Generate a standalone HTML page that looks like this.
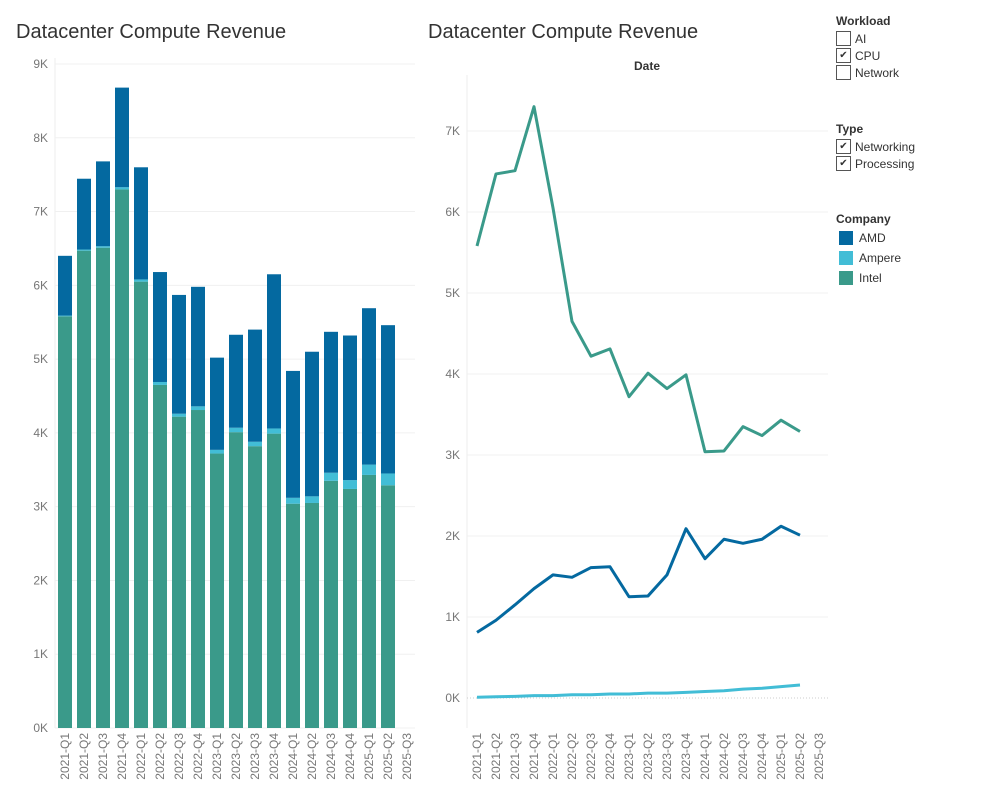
<!DOCTYPE html>
<html><head><meta charset="utf-8"><style>
body{margin:0;background:#fff;font-family:"Liberation Sans",sans-serif;}
#wrap{position:relative;width:1000px;height:800px;overflow:hidden;}
.title{position:absolute;font-size:20px;color:#333;}
.leg{position:absolute;font-size:12px;color:#333;}
.lt{font-weight:bold;font-size:12px;margin-bottom:2px;}
.cb{display:flex;align-items:center;height:17px;}
.box{width:15px;height:15px;border:1px solid #555;box-sizing:border-box;margin-right:4px;font-size:10px;line-height:13px;text-align:center;}
.sw{display:flex;align-items:center;height:20px;padding-left:3px;}
.sq{width:14px;height:14px;margin-right:6px;}
</style></head><body><div id="wrap">
<div class="title" style="left:16px;top:21px">Datacenter Compute Revenue</div>
<div class="title" style="left:428px;top:21px">Datacenter Compute Revenue</div>
<svg id="chart" width="1000" height="800" style="position:absolute;left:0;top:0"></svg>
<div class="leg" style="left:836px;top:14px">
<div class="lt">Workload</div>
<div class="cb"><div class="box"></div>AI</div>
<div class="cb"><div class="box">✔</div>CPU</div>
<div class="cb"><div class="box"></div>Network</div>
</div>
<div class="leg" style="left:836px;top:122px">
<div class="lt">Type</div>
<div class="cb"><div class="box">✔</div>Networking</div>
<div class="cb"><div class="box">✔</div>Processing</div>
</div>
<div class="leg" style="left:836px;top:212px">
<div class="lt">Company</div>
<div class="sw"><div class="sq" style="background:#0469a0"></div>AMD</div>
<div class="sw"><div class="sq" style="background:#42bdd6"></div>Ampere</div>
<div class="sw"><div class="sq" style="background:#3a9a8a"></div>Intel</div>
</div>
</div>
<script>
const categories=["2021-Q1","2021-Q2","2021-Q3","2021-Q4","2022-Q1","2022-Q2","2022-Q3","2022-Q4","2023-Q1","2023-Q2","2023-Q3","2023-Q4","2024-Q1","2024-Q2","2024-Q3","2024-Q4","2025-Q1","2025-Q2","2025-Q3"];
const intel=[5580,6470,6510,7300,6050,4650,4220,4310,3720,4010,3820,3990,3040,3050,3350,3240,3430,3290];
const ampere=[10,15,20,30,30,40,40,50,50,60,60,70,80,90,110,120,140,160];
const amd=[810,960,1150,1350,1520,1490,1610,1620,1250,1260,1520,2090,1720,1960,1910,1960,2120,2010];
const leftTicks=[0,1000,2000,3000,4000,5000,6000,7000,8000,9000];
const rightTicks=[0,1000,2000,3000,4000,5000,6000,7000];
const C={amd:"#0469a0",ampere:"#42bdd6",intel:"#3a9a8a"};
const svg=document.getElementById('chart');
const NS="http://www.w3.org/2000/svg";
function mk(t,a,p){const e=document.createElementNS(NS,t);for(const k in a)e.setAttribute(k,a[k]);(p||svg).appendChild(e);return e;}
const fmt=v=>(v/1000)+"K";
// left bar chart
const yL=v=>728-v*(664/9000);
const xL=i=>65+i*19;
mk('line',{x1:55,y1:728,x2:415,y2:728,stroke:'#e6e6e6'});
mk('line',{x1:55,y1:58,x2:55,y2:728,stroke:'#eee'});
leftTicks.forEach(v=>{
 const g=mk('line',{x1:55,y1:yL(v),x2:415,y2:yL(v),stroke:'#f0f0f0'});
 
 
 const t=mk('text',{x:48,y:yL(v)+4,'text-anchor':'end','font-size':12,fill:'#777'});
 t.textContent=fmt(v);
 
 
});
categories.forEach((c,i)=>{
 const t=mk('text',{transform:`translate(${xL(i)+4},${733}) rotate(-90)`,'text-anchor':'end','font-size':12,fill:'#777'});
 t.textContent=c;
 
 
 if(i>=intel.length)return;
 let base=0;
 [[intel,C.intel,'bar-intel'],[ampere,C.ampere,'bar-ampere'],[amd,C.amd,'bar-amd']].forEach(([arr,col,nm])=>{
  const v=arr[i];
  const r=mk('rect',{x:xL(i)-7,y:yL(base+v),width:14,height:yL(base)-yL(base+v),fill:col});
  
  
  base+=v;
 });
});
// right line chart
const yR=v=>698-v*(81/1000);
const xR=i=>477+i*19;
mk('line',{x1:467,y1:75,x2:467,y2:728,stroke:'#eee'});
rightTicks.forEach(v=>{
 const g=mk('line',{x1:467,y1:yR(v),x2:828,y2:yR(v),stroke:v===0?'#ccc':'#f0f0f0','stroke-dasharray':v===0?'1,2':'none'});
 
 
 const t=mk('text',{x:460,y:yR(v)+4,'text-anchor':'end','font-size':12,fill:'#777'});
 t.textContent=fmt(v);
 
 
});
const dt=mk('text',{x:647,y:70,'text-anchor':'middle','font-size':12,'font-weight':'bold',fill:'#333'});
dt.textContent="Date";


categories.forEach((c,i)=>{
 const t=mk('text',{transform:`translate(${xR(i)+4},${733}) rotate(-90)`,'text-anchor':'end','font-size':12,fill:'#777'});
 t.textContent=c;
 
 
});
[[intel,C.intel,'line-intel'],[amd,C.amd,'line-amd'],[ampere,C.ampere,'line-ampere']].forEach(([arr,col,nm])=>{
 const p=mk('polyline',{points:arr.map((v,i)=>xR(i)+","+yR(v)).join(" "),fill:'none',stroke:col,'stroke-width':3,'stroke-linejoin':'round'});
 
 
});
</script>
</body></html>
